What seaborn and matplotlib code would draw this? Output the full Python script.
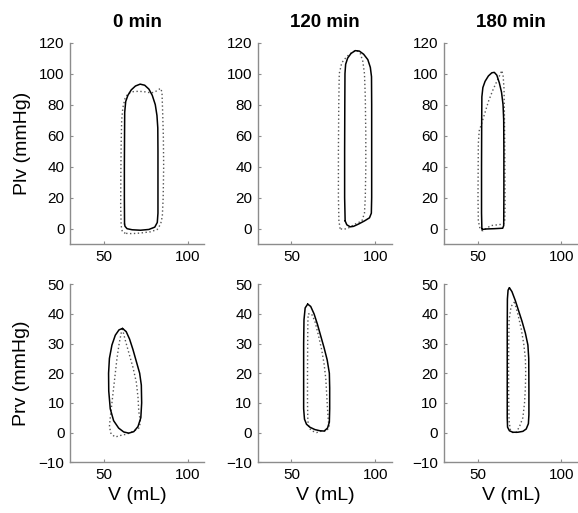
import pandas as pd
import matplotlib
matplotlib.use("Agg")
import matplotlib.pyplot as plt
import seaborn as sns

# pressure-volume loops, (V mL, P mmHg)
col_titles = ['0 min', '120 min', '180 min']
row_labels = ['Plv (mmHg)', 'Prv (mmHg)']

lv0_model = [(62.5, 3), (62.4, 20), (62.4, 40), (62.5, 60), (62.6, 75), (63.2, 82), (64.5, 86),
             (66.5, 89.5), (69, 92), (71.8, 93.2), (74.5, 92.5), (77, 90), (79, 86), (80.8, 80),
             (81.8, 73), (82.3, 65), (82.4, 50), (82.4, 30), (82.4, 10), (82, 4), (80.5, 1),
             (77, -0.5), (72, -1), (67, -0.7), (64, 0), (62.8, 1.5), (62.5, 3)]
lv0_data = [(63, -3), (61.2, -2), (60.5, 2), (60.2, 15), (60.3, 35), (60.5, 55), (60.8, 70),
            (61.5, 78), (62.8, 84), (64.5, 87), (67, 88.3), (71, 88.6), (75, 88.2), (78.5, 87.5),
            (81, 88.5), (84, 90.5), (84.8, 88), (85.2, 75), (85.6, 60), (85.8, 40), (85.5, 20),
            (85, 8), (84, 3), (82, -0.5), (78, -2), (72, -2.8), (67, -3.2), (63, -3)]

lv120_model = [(82, 5), (81.7, 20), (81.7, 50), (81.8, 80), (81.9, 100), (82.3, 106), (83.5, 110),
               (85.5, 113), (88, 114.8), (90.5, 114.5), (93, 112.5), (95.5, 109), (97, 104),
               (97.7, 98), (97.8, 80), (97.8, 50), (97.8, 20), (97.6, 10), (96.5, 7), (93.5, 5),
               (90, 3), (87, 1.5), (85, 1.2), (83, 2.5), (82, 5)]
lv120_data = [(79, 0), (78.3, 5), (78, 20), (78, 50), (78.2, 80), (78.5, 100), (80, 107), (83, 111),
              (86.5, 114), (89, 115), (91, 113), (92.5, 108), (93.5, 100), (94, 85), (94.3, 60),
              (94.3, 40), (94, 20), (93.5, 10), (92, 5), (88, 3), (84, 0.5), (81, -0.5), (79, 0)]

lv180_model = [(52.6, 0), (52.4, 10), (52.4, 40), (52.5, 70), (52.6, 85), (53.2, 91), (54.5, 95),
               (56.5, 98.5), (58.5, 100.5), (60, 100.8), (61.5, 99), (63, 94), (64.3, 88),
               (65.2, 80), (65.6, 70), (65.7, 50), (65.7, 20), (65.6, 2), (65, 0.3), (60, 0),
               (55, -0.2), (53, -0.5), (52.6, 0)]
lv180_data = [(53, -1.5), (51.5, 0), (50.5, 5), (50.3, 20), (50.4, 40), (50.5, 55), (51, 63),
              (52.5, 68), (54.5, 75), (56.5, 82), (59, 89), (61.5, 95), (63.5, 99.5), (64.5, 102),
              (65.3, 98), (65.8, 90), (66, 75), (66.2, 55), (66.3, 35), (66.4, 15), (66.2, 5),
              (65.5, 3), (62, 2.5), (58, 2), (55, 0), (53, -1.5)]

rv0_model = [(61.3, 35.1), (63.5, 34), (65.5, 31.5), (67.5, 28), (69.5, 24), (71.5, 20), (72.5, 16),
             (72.7, 10), (72.2, 5), (70.5, 2), (68, 0.3), (65, -0.2), (62, 0.2), (59, 1.5), (56, 4),
             (54, 8), (53.1, 14), (53, 20), (53.5, 25), (55, 29.5), (57, 32.8), (59.2, 34.6),
             (61.3, 35.1)]
rv0_data = [(61.2, 35), (63, 31), (65, 27), (67.5, 22), (69.5, 17), (70.5, 12), (71, 7), (72, 3.5),
            (71, 1.5), (68, 0.5), (64, -0.5), (60, -1), (57, -1.5), (54.5, -0.5), (53.5, 2), (54, 5),
            (55, 10), (56, 15), (57, 20), (58, 25), (59.3, 30), (60.5, 33.5), (61.2, 35)]

rv120_model = [(59.7, 43.3), (61.5, 42.5), (63.5, 40), (65.5, 36.5), (67.5, 32.5), (69.5, 28.5),
               (71.3, 24.5), (72.6, 20), (72.8, 15), (72.8, 8), (72.6, 3.5), (71.5, 1.5),
               (69.5, 0.5), (67, 0.6), (64, 1), (61, 1.8), (59, 2.8), (57.8, 4.5), (57.3, 8),
               (57.3, 20), (57.3, 30), (57.5, 38), (58.2, 42), (59.7, 43.3)]
rv120_data = [(60, 40), (62, 40), (64, 37.5), (66, 33), (68, 28), (69.5, 23), (70.5, 18), (71, 13),
              (71.5, 8), (72, 4), (72.5, 2), (71, 0.5), (68, 0.5), (65, 0), (62.5, 0.5), (60.5, 1.5),
              (59.8, 4), (59.6, 10), (59.6, 20), (59.7, 30), (59.8, 37), (60, 40)]

rv180_model = [(69, 48.8), (70.5, 47.5), (72.5, 44.5), (74.5, 41), (76.5, 37.5), (78.5, 33.5),
               (80, 29.5), (80.5, 25), (80.6, 15), (80.6, 6), (80.3, 3), (79, 1.2), (77, 0.4),
               (74, 0.1), (71, 0.1), (69, 0.6), (67.9, 1.8), (67.7, 5), (67.7, 20), (67.7, 35),
               (67.8, 45), (68.2, 48), (69, 48.8)]
rv180_data = [(72, 44), (74, 40), (76, 35), (77.5, 30), (78.5, 25), (78.7, 20), (78.5, 15), (78, 10),
              (77, 5), (75, 2), (73, 0), (71, 0), (69.5, 1), (68.8, 4), (68.6, 10), (68.5, 20),
              (68.6, 30), (68.8, 38), (70, 42.5), (72, 44)]

panels = [[(lv0_model, lv0_data), (lv120_model, lv120_data), (lv180_model, lv180_data)],
          [(rv0_model, rv0_data), (rv120_model, rv120_data), (rv180_model, rv180_data)]]

sns.set_style("ticks")
plt.rcParams['font.family'] = ['Liberation Sans', 'DejaVu Sans']
plt.rcParams['text.color'] = 'black'
plt.rcParams['axes.labelcolor'] = 'black'
plt.rcParams['xtick.labelcolor'] = 'black'
plt.rcParams['ytick.labelcolor'] = 'black'

fig = plt.figure(figsize=(5.78, 5.13), dpi=100)
lefts = [0.121, 0.446, 0.768]
bottoms = [0.524, 0.099]
heights = [0.393, 0.347]
w = 0.2325
ylims = [(-10, 120), (-10, 50)]
yticks = [range(0, 121, 20), range(-10, 51, 10)]

for r in range(2):
    for c in range(3):
        ax = fig.add_axes([lefts[c], bottoms[r], w, heights[r]])
        model, data = panels[r][c]
        dm = pd.DataFrame(model, columns=['V', 'P'])
        dd = pd.DataFrame(data, columns=['V', 'P'])
        sns.lineplot(data=dd, x='V', y='P', sort=False, estimator=None, ax=ax,
                     color='#555555', linewidth=1.0, linestyle=(0, (1, 1.8)))
        sns.lineplot(data=dm, x='V', y='P', sort=False, estimator=None, ax=ax,
                     color='black', linewidth=1.1)
        ax.set_xlim(30, 110)
        ax.set_ylim(*ylims[r])
        ax.set_xticks([50, 100])
        ax.set_yticks(list(yticks[r]))
        sns.despine(ax=ax)
        for s in ['left', 'bottom']:
            ax.spines[s].set_color('#8c8c8c')
            ax.spines[s].set_linewidth(1.0)
        ax.tick_params(direction='in', length=2.5, color='#8c8c8c', labelsize=11, pad=4)
        ax.set_xlabel('V (mL)' if r == 1 else '', fontsize=14)
        ax.set_ylabel(row_labels[r] if c == 0 else '', fontsize=14, labelpad=6)
        if r == 0:
            ax.set_title(col_titles[c], fontsize=13.5, fontweight='bold', pad=11)

fig.savefig('out.png', dpi=100)
